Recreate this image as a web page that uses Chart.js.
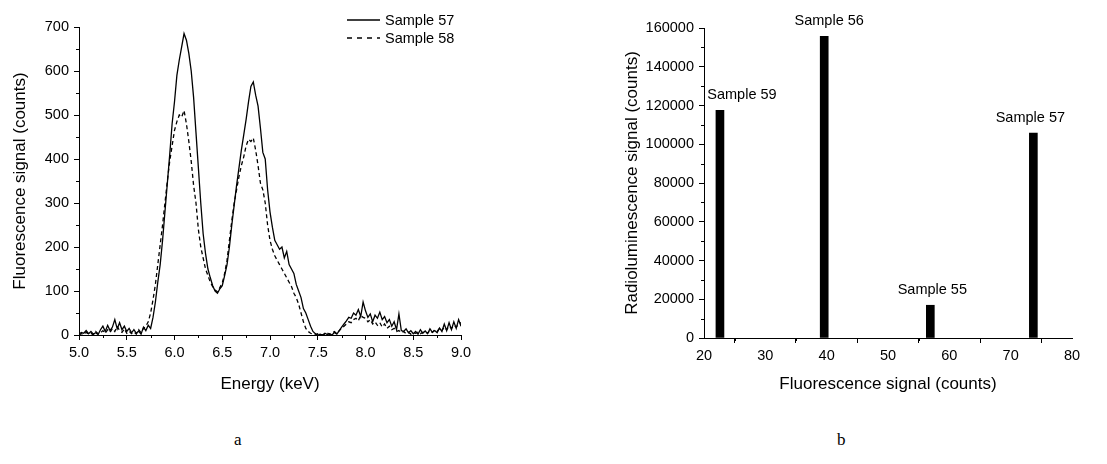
<!DOCTYPE html>
<html>
<head>
<meta charset="utf-8">
<script src="https://cdn.jsdelivr.net/npm/chart.js@4.4.1/dist/chart.umd.min.js"></script>
<style>
body { margin:0; background:#fff; width:1107px; height:464px; position:relative; overflow:hidden; }
#chart1 { position:absolute; left:0; top:0; }
#chart2 { position:absolute; left:560px; top:0; }
.tag { position:absolute; top:430px; font-family:"Liberation Serif", serif; font-size:17px; color:#000; }
</style>
</head>
<body>
<canvas id="chart1" width="480" height="410"></canvas>
<canvas id="chart2" width="547" height="410"></canvas>
<div class="tag" style="left:234px">a</div>
<div class="tag" style="left:837px">b</div>
<script>
//spectra (a)
var energy = [
    5.000, 5.025, 5.050, 5.075, 5.100, 5.125, 5.150, 5.175, 5.200, 5.225,
    5.250, 5.275, 5.300, 5.325, 5.350, 5.375, 5.400, 5.425, 5.450, 5.475,
    5.500, 5.525, 5.550, 5.575, 5.600, 5.625, 5.650, 5.675, 5.700, 5.725,
    5.750, 5.775, 5.800, 5.825, 5.850, 5.875, 5.900, 5.925, 5.950, 5.975,
    6.000, 6.025, 6.050, 6.075, 6.100, 6.125, 6.150, 6.175, 6.200, 6.225,
    6.250, 6.275, 6.300, 6.325, 6.350, 6.375, 6.400, 6.425, 6.450, 6.475,
    6.500, 6.525, 6.550, 6.575, 6.600, 6.625, 6.650, 6.675, 6.700, 6.725,
    6.750, 6.775, 6.800, 6.825, 6.850, 6.875, 6.900, 6.925, 6.950, 6.975,
    7.000, 7.025, 7.050, 7.075, 7.100, 7.125, 7.150, 7.175, 7.200, 7.225,
    7.250, 7.275, 7.300, 7.325, 7.350, 7.375, 7.400, 7.425, 7.450, 7.475,
    7.500, 7.525, 7.550, 7.575, 7.600, 7.625, 7.650, 7.675, 7.700, 7.725,
    7.750, 7.775, 7.800, 7.825, 7.850, 7.875, 7.900, 7.925, 7.950, 7.975,
    8.000, 8.025, 8.050, 8.075, 8.100, 8.125, 8.150, 8.175, 8.200, 8.225,
    8.250, 8.275, 8.300, 8.325, 8.350, 8.375, 8.400, 8.425, 8.450, 8.475,
    8.500, 8.525, 8.550, 8.575, 8.600, 8.625, 8.650, 8.675, 8.700, 8.725,
    8.750, 8.775, 8.800, 8.825, 8.850, 8.875, 8.900, 8.925, 8.950, 8.975,
    9.000
];
var sample57 = [
    2, 6, 4, 10, 3, 8, 2, 5, 1, 12,
    20, 8, 22, 10, 18, 35, 14, 28, 12, 20,
    8, 15, 5, 12, 4, 9, 2, 18, 10, 22,
    15, 40, 75, 120, 160, 215, 280, 345, 410, 480,
    530, 590, 625, 655, 685, 670, 640, 600, 540, 460,
    380, 300, 230, 185, 150, 130, 112, 100, 95, 105,
    112, 135, 160, 200, 250, 295, 340, 380, 420, 455,
    490, 530, 565, 575, 545, 520, 470, 415, 400, 330,
    280, 245, 215, 205, 195, 200, 175, 190, 160, 150,
    140, 115, 100, 85, 60, 50, 35, 20, 8, 3,
    0, 2, 0, 4, 1, 3, 0, 6, 2, 10,
    18, 25, 32, 40, 38, 50, 45, 58, 42, 75,
    55, 40, 48, 30, 45, 38, 52, 35, 42, 28,
    35, 20, 30, 12, 48, 10, 8, 14, 5, 10,
    3, 8, 2, 12, 4, 9, 3, 14, 6, 10,
    5, 16, 8, 25, 10, 28, 12, 30, 15, 35,
    20
];
var sample58 = [
    0, 3, 1, 6, 2, 4, 0, 8, 3, 5,
    10, 4, 12, 6, 15, 8, 20, 10, 6, 14,
    4, 9, 3, 7, 2, 12, 5, 15, 20, 30,
    50, 80, 115, 160, 205, 250, 300, 350, 395, 430,
    465, 485, 500, 495, 510, 480, 440, 395, 340, 300,
    240, 200, 175, 150, 135, 120, 110, 102, 98, 108,
    118, 140, 170, 215, 260, 300, 330, 360, 385, 405,
    430, 445, 440, 448, 420, 385, 345, 330, 300, 250,
    215, 195, 180, 170, 160, 150, 140, 130, 120, 110,
    95, 85, 70, 50, 30, 15, 8, 4, 2, 0,
    3, 1, 0, 2, 5, 1, 4, 8, 3, 10,
    15, 20, 25, 30, 28, 35, 38, 32, 45, 40,
    38, 30, 35, 25, 30, 22, 28, 18, 25, 15,
    20, 12, 15, 8, 10, 5, 8, 3, 6, 2,
    5, 4, 7, 3, 6, 8, 4, 10, 6, 12,
    8, 15, 10, 18, 12, 20, 15, 22, 18, 25,
    28
];
var seriesNames = ['Sample 57', 'Sample 58'];
var energyMinor = [5.25, 5.75, 6.25, 6.75, 7.25, 7.75, 8.25, 8.75];
var countsMinor = [50, 150, 250, 350, 450, 550, 650];

//bars (b)
var sampleNames = ['Sample 59', 'Sample 56', 'Sample 55', 'Sample 57'];
var fluoSignal = [22.6, 39.6, 56.9, 73.7];
var radioSignal = [117500, 155700, 16900, 105800];
var fluoMinor = [25, 35, 45, 55, 65, 75];
var radioMinor = [10000, 30000, 50000, 70000, 90000, 110000, 130000, 150000];

Chart.defaults.font.family = '"Liberation Sans", Arial, sans-serif';
Chart.defaults.color = '#000';

//short minor ticks outside the axes
var minorTicks = {
    id: 'minorTicks',
    afterDraw: function(chart, args, opts) {
        var ctx = chart.ctx;
        var xs = chart.scales.x, ys = chart.scales.y;
        ctx.save();
        ctx.strokeStyle = '#000';
        ctx.lineWidth = 1;
        ctx.beginPath();
        (opts.x || []).forEach(function(v) {
            var p = Math.round(xs.getPixelForValue(v)) + 0.5;
            ctx.moveTo(p, xs.top);
            ctx.lineTo(p, xs.top + 3);
        });
        (opts.y || []).forEach(function(v) {
            var p = Math.round(ys.getPixelForValue(v)) + 0.5;
            ctx.moveTo(ys.right, p);
            ctx.lineTo(ys.right - 3, p);
        });
        ctx.stroke();
        ctx.restore();
    }
};

//legend drawn inside the plot, top right
var lineKey = {
    id: 'lineKey',
    afterDraw: function(chart, args, opts) {
        var ctx = chart.ctx;
        chart.data.datasets.forEach(function(ds, i) {
            var y = opts.y + i * opts.gap;
            ctx.save();
            ctx.strokeStyle = '#000';
            ctx.lineWidth = 1.5;
            ctx.setLineDash(opts.dash[i]);
            ctx.beginPath();
            ctx.moveTo(opts.x, y);
            ctx.lineTo(opts.x + 33, y);
            ctx.stroke();
            ctx.setLineDash([]);
            ctx.fillStyle = '#000';
            ctx.font = '14.5px "Liberation Sans", Arial, sans-serif';
            ctx.textBaseline = 'middle';
            ctx.fillText(ds.label, opts.x + 38, y + 1);
            ctx.restore();
        });
    }
};

//sample names over the bars
var barTags = {
    id: 'barTags',
    afterDatasetsDraw: function(chart, args, opts) {
        var ctx = chart.ctx;
        var meta = chart.getDatasetMeta(0);
        ctx.save();
        ctx.fillStyle = '#000';
        ctx.font = '14.5px "Liberation Sans", Arial, sans-serif';
        ctx.textAlign = 'center';
        ctx.textBaseline = 'middle';
        meta.data.forEach(function(bar, i) {
            ctx.fillText(sampleNames[i], bar.x + opts.shift[i], bar.y - 15);
        });
        ctx.restore();
    }
};

function axisStyle(extra) {
    var base = {
        grid: { drawOnChartArea: false, tickLength: 5, color: '#000' },
        border: { color: '#000', width: 1 }
    };
    return Object.assign(base, extra);
}

var points57 = energy.map(function(e, i) { return { x: e, y: sample57[i] }; });
var points58 = energy.map(function(e, i) { return { x: e, y: sample58[i] }; });

const chart1 = new Chart(document.getElementById('chart1'), {
    type: 'line',
    data: {
        datasets: [{
            label: seriesNames[0],
            data: points57,
            borderColor: '#000',
            borderWidth: 1.3,
            pointRadius: 0,
            tension: 0
        }, {
            label: seriesNames[1],
            data: points58,
            borderColor: '#000',
            borderWidth: 1.3,
            borderDash: [4, 3],
            pointRadius: 0,
            tension: 0
        }]
    },
    options: {
        responsive: false,
        animation: false,
        layout: { padding: { left: 6, top: 27, right: 19, bottom: 11 } },
        plugins: {
            legend: { display: false },
            tooltip: { enabled: false },
            minorTicks: { x: energyMinor, y: countsMinor },
            lineKey: { x: 347, y: 20, gap: 18, dash: [[], [5, 5]] }
        },
        scales: {
            x: axisStyle({
                type: 'linear', min: 5, max: 9,
                afterFit: function(s) { s.height = 64; },
                ticks: { stepSize: 0.5, maxRotation: 0, padding: 4, font: { size: 14.5 },
                    callback: function(v) { return v.toFixed(1); } },
                title: { display: true, text: 'Energy (keV)', font: { size: 17 } }
            }),
            y: axisStyle({
                min: 0, max: 700,
                afterFit: function(s) { s.width = 73; },
                ticks: { stepSize: 100, padding: 5, font: { size: 14.5 } },
                title: { display: true, text: 'Fluorescence signal (counts)', font: { size: 17 } }
            })
        }
    },
    plugins: [minorTicks, lineKey]
});

const chart2 = new Chart(document.getElementById('chart2'), {
    type: 'bar',
    data: {
        datasets: [{
            label: 'Radioluminescence',
            data: fluoSignal.map(function(f, i) { return { x: f, y: radioSignal[i] }; }),
            backgroundColor: '#000',
            borderWidth: 0,
            barThickness: 8
        }]
    },
    options: {
        responsive: false,
        animation: false,
        layout: { padding: { left: 58, top: 28, right: 35, bottom: 11 } },
        plugins: {
            legend: { display: false },
            tooltip: { enabled: false },
            minorTicks: { x: fluoMinor, y: radioMinor },
            barTags: { shift: [22, 5, 2, -3] }
        },
        scales: {
            x: axisStyle({
                type: 'linear', min: 20, max: 80, offset: false,
                afterFit: function(s) { s.height = 61; },
                ticks: { stepSize: 10, maxRotation: 0, padding: 4, font: { size: 14.5 } },
                title: { display: true, text: 'Fluorescence signal (counts)', font: { size: 17 } }
            }),
            y: axisStyle({
                min: 0, max: 160000,
                afterFit: function(s) { s.width = 86; },
                ticks: { stepSize: 20000, padding: 5, font: { size: 14.5 },
                    callback: function(v) { return String(v); } },
                title: { display: true, text: 'Radioluminescence signal (counts)', font: { size: 17 } }
            })
        }
    },
    plugins: [minorTicks, barTags]
});
</script>
</body>
</html>
